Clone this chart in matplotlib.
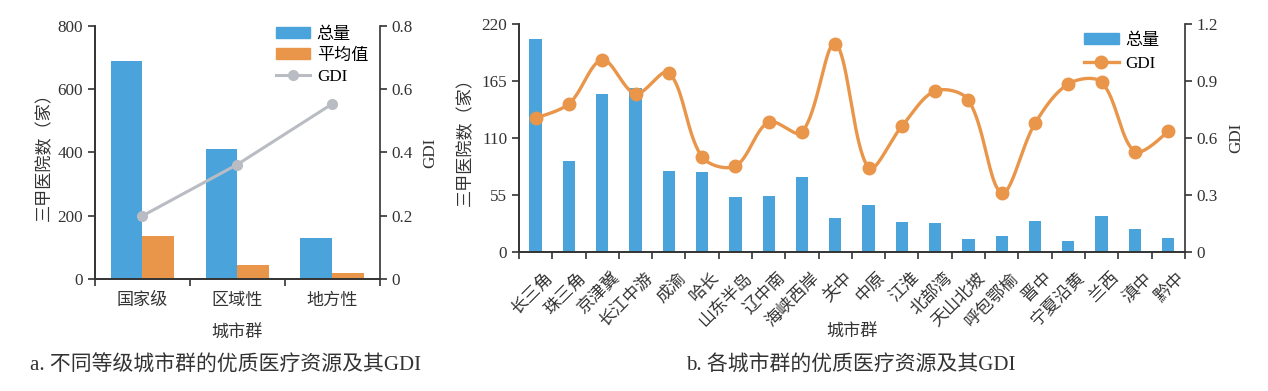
import numpy as np
import matplotlib
matplotlib.use('Agg')
import matplotlib.pyplot as plt
from matplotlib.patches import Patch
from matplotlib.lines import Line2D
from matplotlib.transforms import ScaledTranslation, blended_transform_factory

plt.rcParams['font.family'] = ['Liberation Serif', 'Noto Sans CJK SC']
plt.rcParams['axes.unicode_minus'] = False

# panel a
levels = ['国家级', '区域性', '地方性']
level_total = [688, 411, 130]
level_mean = [137, 44, 20]
level_gdi = [0.20, 0.362, 0.553]

# panel b
groups = ['长三角', '珠三角', '京津冀', '长江中游', '成渝', '哈长', '山东半岛', '辽中南',
          '海峡西岸', '关中', '中原', '江淮', '北部湾', '天山北坡', '呼包鄂榆', '晋中',
          '宁夏沿黄', '兰西', '滇中', '黔中']
group_total = [206, 88, 153, 158, 78, 77, 53, 54, 72, 33,
               45, 29, 28, 12, 15, 30, 10, 35, 22, 13]
group_gdi = [0.707, 0.78, 1.012, 0.834, 0.945, 0.50, 0.452, 0.684, 0.63, 1.098,
             0.443, 0.662, 0.848, 0.80, 0.311, 0.677, 0.885, 0.894, 0.528, 0.637]

BLUE = '#4aa3db'
ORANGE = '#e9954a'
GRAY = '#b9bcc2'
INK = '#333333'
FS = 12.3


def smooth(x, y, yscale, tension=1 / 3, n=40):
    """Bezier smoothing through the points, arms scaled by segment lengths
    measured in screen proportion (yscale = px per y unit / px per x unit)."""
    p = np.column_stack([x, np.asarray(y) * yscale]).astype(float)
    k = len(p)
    c_in = p.copy()
    c_out = p.copy()
    for i in range(1, k - 1):
        d0 = np.hypot(*(p[i] - p[i - 1]))
        d1 = np.hypot(*(p[i + 1] - p[i]))
        v = p[i + 1] - p[i - 1]
        c_in[i] = p[i] - tension * d0 / (d0 + d1) * v
        c_out[i] = p[i] + tension * d1 / (d0 + d1) * v
    t = np.linspace(0, 1, n)[:, None]
    pts = []
    for i in range(k - 1):
        a, b, c, d = p[i], c_out[i], c_in[i + 1], p[i + 1]
        seg = ((1 - t) ** 3) * a + 3 * ((1 - t) ** 2) * t * b + 3 * (1 - t) * t ** 2 * c + t ** 3 * d
        pts.append(seg if i == 0 else seg[1:])
    pts = np.vstack(pts)
    return pts[:, 0], pts[:, 1] / yscale


def style(ax, ax2):
    for a in (ax, ax2):
        a.spines['top'].set_visible(False)
        for s in a.spines.values():
            s.set_color(INK)
            s.set_linewidth(1.2)
        a.tick_params(colors=INK, labelsize=FS, direction='out', length=5, width=1.2)
    ax.spines['right'].set_visible(False)
    ax.tick_params(axis='x', which='major', length=0)
    ax.tick_params(axis='x', which='minor', length=5, width=1.2, color=INK)


fig = plt.figure(figsize=(12.68, 3.91), dpi=100)

# ---- panel a
ax = fig.add_axes([0.0749, 0.2857, 0.2244, 0.6486])
ax2 = ax.twinx()
xa = np.arange(len(levels))
w = 1 / 3
ax.bar(xa - w / 2, level_total, w, color=BLUE, label='总量')
ax.bar(xa + w / 2, level_mean, w, color=ORANGE, label='平均值')
ax2.plot(xa, level_gdi, color=GRAY, lw=2.2, marker='o', ms=7, label='GDI')
ax.set_xlim(-0.5, len(levels) - 0.5)
ax.set_ylim(0, 800)
ax.set_yticks([0, 200, 400, 600, 800])
ax2.set_ylim(0, 0.8)
ax2.set_yticks([0, 0.2, 0.4, 0.6, 0.8])
ax2.set_yticklabels(['0', '0.2', '0.4', '0.6', '0.8'])
ax.set_xticks(xa)
ax.set_xticklabels(levels, fontsize=FS, color=INK)
ax.set_xticks(np.arange(len(levels) + 1) - 0.5, minor=True)
style(ax, ax2)
ax.tick_params(axis='x', which='major', pad=10)
ax.set_xlabel('城市群', fontsize=FS, color=INK, labelpad=12)
ax.set_ylabel('三甲医院数（家）', fontsize=FS, color=INK, labelpad=3)
ax2.set_ylabel('GDI', fontsize=FS, color=INK, labelpad=7)
handles = [Patch(color=BLUE), Patch(color=ORANGE),
           Line2D([], [], color=GRAY, lw=2.2, marker='o', ms=7)]
ax.legend(handles, ['总量', '平均值', 'GDI'], loc='upper right', frameon=False,
          fontsize=FS, handlelength=2.0, handleheight=0.6, handletextpad=0.4,
          labelspacing=0.3, borderaxespad=0.1, bbox_to_anchor=(0.99, 1.03))
fig.text(0.178, 0.04, 'a. 不同等级城市群的优质医疗资源及其GDI', fontsize=15,
         color=INK, ha='center', va='bottom')

# ---- panel b
bx = fig.add_axes([0.4093, 0.3563, 0.5251, 0.5816])
bx2 = bx.twinx()
xb = np.arange(len(groups))
bx.bar(xb, group_total, 0.37, color=BLUE, label='总量')
ysc = (227.4 / 1.2) / 33.33
cx, cy = smooth(xb, group_gdi, ysc)
bx2.plot(cx, cy, color=ORANGE, lw=2.4)
bx2.plot(xb, group_gdi, 'o', color=ORANGE, ms=9)
bx.set_xlim(-0.5, len(groups) - 0.5)
bx.set_ylim(0, 220)
bx.set_yticks([0, 55, 110, 165, 220])
bx2.set_ylim(0, 1.2)
bx2.set_yticks([0, 0.3, 0.6, 0.9, 1.2])
bx2.set_yticklabels(['0', '0.3', '0.6', '0.9', '1.2'])
bx.set_xticks(xb)
bx.set_xticklabels([])
bx.set_xticks(np.arange(len(groups) + 1) - 0.5, minor=True)
style(bx, bx2)
lab_tr = blended_transform_factory(bx.transData, bx.transAxes) + \
    ScaledTranslation(0.15, -0.24, fig.dpi_scale_trans)
for i, g in enumerate(groups):
    bx.text(i, 0, g, transform=lab_tr, fontsize=FS, color=INK, rotation=45,
            rotation_mode='anchor', ha='right', va='center')
fig.text(0.672, 0.150, '城市群', fontsize=FS, color=INK, ha='center', va='center')
bx.set_ylabel('三甲医院数（家）', fontsize=FS, color=INK, labelpad=5)
bx2.set_ylabel('GDI', fontsize=FS, color=INK, labelpad=7)
handles = [Patch(color=BLUE), Line2D([], [], color=ORANGE, lw=2.4, marker='o', ms=9)]
bx.legend(handles, ['总量', 'GDI'], loc='upper right', frameon=False,
          fontsize=FS, handlelength=2.0, handleheight=0.6, handletextpad=0.4,
          labelspacing=0.4, borderaxespad=0.1, bbox_to_anchor=(0.975, 1.0))
fig.text(0.671, 0.04, 'b. 各城市群的优质医疗资源及其GDI', fontsize=15,
         color=INK, ha='center', va='bottom')

fig.savefig('out.png', dpi=100, facecolor='white')
